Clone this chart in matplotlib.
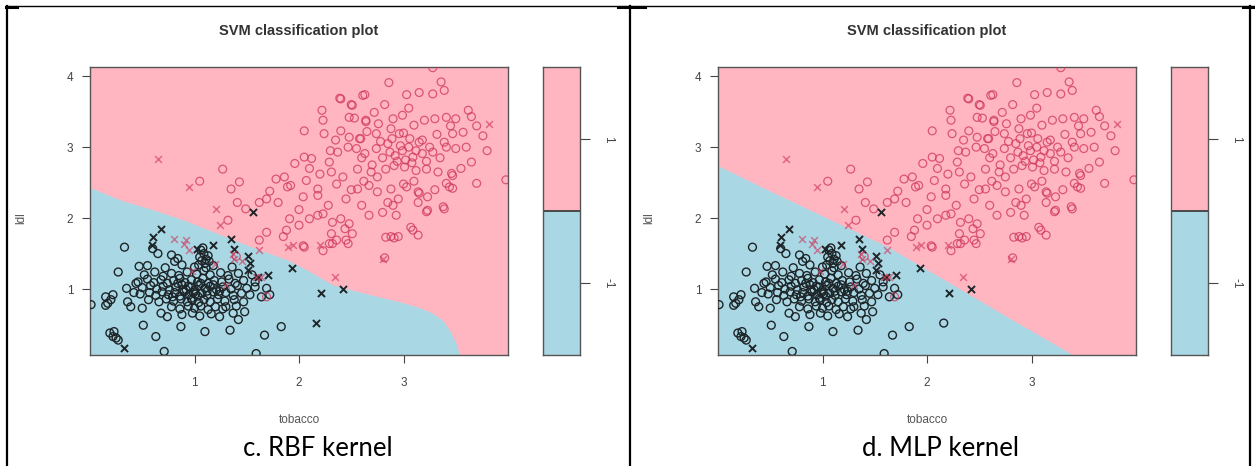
import numpy as np
import matplotlib
matplotlib.use("Agg")
import matplotlib.pyplot as plt
from matplotlib.lines import Line2D

# ---- data (tobacco, ldl) ----
# class -1, plain points (circles)
neg_pts = [
    (0.01, 0.78), (0.15, 0.89), (0.20, 0.85), (0.15, 0.77), (0.22, 0.92), (0.17, 0.80),
    (0.27, 1.24), (0.33, 1.59), (0.35, 1.01), (0.36, 0.82), (0.39, 0.75), (0.47, 1.32),
    (0.50, 0.73), (0.51, 0.49), (0.19, 0.38), (0.23, 0.40), (0.27, 0.28), (0.22, 0.33),
    (0.25, 0.31), (0.63, 0.33), (0.71, 0.12), (0.87, 0.47), (1.10, 0.40), (1.34, 0.42),
    (1.67, 0.35), (1.83, 0.47), (1.59, 0.09), (0.60, 1.57), (0.65, 1.50), (0.78, 1.48),
    (0.84, 1.43), (0.81, 1.39), (1.69, 1.01), (1.72, 0.92), (1.64, 0.89), (1.48, 0.68),
    (1.42, 0.57), (1.30, 0.75), (1.37, 0.66), (0.68, 0.66), (0.74, 0.61), (0.44, 1.08),
    (0.42, 0.95),
    (0.55, 1.33), (0.72, 1.30), (0.88, 1.34), (1.00, 1.31), (1.10, 1.36), (1.18, 1.33), (1.36, 1.31),
    (1.06, 1.55), (1.09, 1.50), (1.05, 1.45), (1.11, 1.42), (1.07, 1.40), (1.13, 1.47), (1.08, 1.58),
    (0.52, 1.20), (0.62, 1.24), (0.70, 1.18), (0.78, 1.22), (0.85, 1.19), (0.93, 1.24), (1.02, 1.21),
    (1.09, 1.26), (1.15, 1.20), (1.25, 1.23), (1.32, 1.19), (1.42, 1.22), (1.55, 1.20),
    (0.46, 1.10), (0.55, 1.14), (0.61, 1.09), (0.68, 1.13), (0.74, 1.08), (0.80, 1.12), (0.86, 1.15),
    (0.91, 1.09), (0.97, 1.13), (1.03, 1.10), (1.08, 1.15), (1.13, 1.08), (1.19, 1.12), (1.26, 1.10),
    (1.33, 1.14), (1.39, 1.08), (1.47, 1.12), (1.58, 1.10),
    (0.50, 1.02), (0.58, 1.05), (0.64, 1.00), (0.70, 1.04), (0.76, 0.99), (0.82, 1.03), (0.88, 1.06),
    (0.92, 0.99), (0.96, 1.03), (1.00, 0.98), (1.04, 1.05), (1.10, 1.01), (1.15, 1.04), (1.21, 0.99),
    (1.27, 1.03), (1.35, 1.00), (1.41, 1.05), (1.50, 1.01), (1.58, 1.03),
    (0.48, 0.93), (0.57, 0.95), (0.63, 0.91), (0.69, 0.96), (0.75, 0.92), (0.81, 0.95), (0.86, 0.90),
    (0.90, 0.96), (0.95, 0.92), (0.99, 0.95), (1.03, 0.90), (1.07, 0.94), (1.12, 0.91), (1.18, 0.96),
    (1.23, 0.92), (1.30, 0.95), (1.37, 0.91), (1.45, 0.94), (1.53, 0.92),
    (0.56, 0.85), (0.66, 0.82), (0.73, 0.86), (0.80, 0.83), (0.87, 0.86), (0.93, 0.82), (0.98, 0.85),
    (1.04, 0.81), (1.09, 0.85), (1.15, 0.82), (1.22, 0.86), (1.29, 0.83), (1.38, 0.85), (1.47, 0.82),
    (0.78, 0.75), (0.86, 0.72), (0.94, 0.76), (1.00, 0.73), (1.06, 0.76), (1.13, 0.71), (1.20, 0.75),
    (1.27, 0.72), (1.40, 0.76),
    (0.88, 0.64), (0.98, 0.66), (1.05, 0.62), (1.16, 0.65), (1.24, 0.61),
    (0.94, 1.04), (1.01, 0.93), (0.89, 0.98), (1.12, 0.97), (0.84, 1.08), (1.06, 1.08), (1.18, 1.06),
    (0.97, 0.87), (0.79, 0.89), (1.24, 0.97), (1.11, 1.30), (1.04, 1.34), (1.14, 1.39),
]
# class -1 support vectors (x) in both panels
neg_sv = [
    (0.60, 1.74), (0.68, 1.84), (0.59, 1.62), (1.02, 1.57), (1.18, 1.62), (1.35, 1.70),
    (1.38, 1.57), (1.51, 1.46), (1.53, 1.36), (1.51, 1.27), (1.61, 1.17), (1.70, 1.20),
    (1.93, 1.29), (2.21, 0.94), (2.42, 1.00), (0.33, 0.17), (1.56, 2.08),
]
# class -1 support vector only for RBF (circle in MLP panel)
neg_sv_rbf = [(2.16, 0.52)]

# class 1, plain points (circles)
pos_pts = [
    (2.86, 3.91), (3.36, 3.92), (3.39, 3.80), (3.03, 3.74), (3.15, 3.77), (3.28, 3.75), (2.63, 3.74),
    (2.39, 3.69), (2.50, 3.60), (2.22, 3.52), (2.23, 3.38), (2.24, 3.19), (2.05, 3.23),
    (2.48, 3.42), (2.53, 3.41), (2.64, 3.36), (2.72, 3.49), (2.82, 3.60), (2.99, 3.45), (3.10, 3.31),
    (3.20, 3.38), (3.30, 3.40), (3.41, 3.42), (3.50, 3.40), (3.62, 3.52), (3.65, 3.43),
    (2.40, 3.23), (2.48, 3.14), (2.58, 3.12), (2.74, 3.19), (2.88, 3.26), (2.96, 3.19), (3.06, 3.12),
    (3.15, 3.07), (3.25, 3.00), (3.39, 3.07), (3.47, 3.19), (3.57, 3.21), (3.76, 3.16),
    (2.47, 3.00), (2.63, 2.91), (2.74, 2.98), (2.87, 2.93), (2.99, 2.95), (3.09, 2.86), (3.18, 2.91),
    (3.28, 2.93), (3.41, 3.00), (3.50, 2.98),
    (1.96, 2.77), (2.05, 2.86), (2.12, 2.84), (2.29, 2.79), (2.37, 2.93),
    (2.31, 2.65), (2.42, 2.58), (2.56, 2.69), (2.69, 2.65), (2.75, 2.58), (2.83, 2.69), (2.91, 2.74),
    (3.01, 2.72), (3.12, 2.67), (3.22, 2.69), (3.33, 2.65),
    (3.47, 2.60), (3.65, 2.79), (3.70, 2.49), (3.44, 2.44),
    (2.07, 2.53), (2.18, 2.41), (2.18, 2.32), (2.04, 2.30), (2.28, 2.18),
    (2.45, 2.27), (2.56, 2.41), (2.67, 2.46), (2.75, 2.37), (2.88, 2.41), (2.95, 2.27), (3.14, 2.37),
    (3.23, 2.30), (3.39, 2.13), (3.22, 2.09), (3.14, 2.22),
    (2.67, 2.04), (2.80, 2.08), (2.90, 2.18), (2.93, 2.04),
    (1.91, 1.99), (2.00, 1.90), (2.10, 1.99), (2.18, 2.04), (2.23, 2.06), (2.32, 1.94), (2.40, 1.99),
    (2.48, 1.92),
    (2.31, 1.78), (2.44, 1.85), (2.51, 1.78), (2.32, 1.64), (2.23, 1.54), (2.05, 1.59), (2.47, 1.64),
    (2.83, 1.73), (2.91, 1.72), (3.07, 1.87), (3.14, 1.76), (2.82, 1.44),
    (1.05, 2.52), (1.27, 2.69), (1.35, 2.41), (1.43, 2.51), (1.41, 2.22), (1.49, 2.13), (1.62, 2.22),
    (1.69, 2.27), (1.80, 2.22), (1.78, 2.55), (1.86, 2.58), (1.89, 2.44), (1.32, 1.97), (1.62, 1.69),
    (1.69, 1.80), (1.88, 1.83), (2.04, 1.61), (2.40, 3.68), (2.51, 3.59), (2.61, 3.73),
    (2.64, 3.38), (2.59, 3.12),
    (3.47, 2.42), (3.41, 2.49), (3.46, 2.63), (3.38, 2.16), (3.23, 2.11), (3.09, 1.83), (3.03, 2.44),
    (3.15, 2.35), (3.28, 4.12),
    (1.40, 1.46), (1.69, 0.89), (2.29, 1.64), (2.36, 1.69), (2.45, 1.69), (2.88, 1.74), (2.95, 1.74),
    (1.85, 1.74),
    (2.85, 3.05), (2.92, 2.88), (2.97, 3.02), (3.02, 2.82), (3.05, 3.00), (2.94, 2.80), (3.12, 2.95),
    (3.08, 2.78), (2.80, 2.85), (3.18, 3.10), (2.89, 3.12), (3.00, 3.20), (2.78, 3.08), (3.22, 2.80),
    (2.70, 2.75), (2.60, 2.85), (2.55, 2.98), (3.35, 2.85), (3.32, 3.18), (2.65, 3.22), (2.90, 3.40),
    (3.05, 3.55), (2.76, 3.33), (2.35, 3.10), (2.30, 2.95), (3.00, 2.48), (3.10, 2.52), (2.62, 2.52),
    (2.50, 2.40), (2.36, 2.48), (2.20, 2.62), (2.10, 2.70), (1.92, 2.46), (1.72, 2.38), (2.00, 2.12),
    (2.60, 2.18), (2.85, 2.22), (3.30, 2.40), (3.55, 2.70), (3.60, 3.00), (3.45, 3.30), (3.70, 3.30),
    (3.80, 2.95), (3.98, 2.54),
]
# class 1 support vectors (x)
pos_sv = [
    (0.65, 2.83), (0.95, 2.44), (1.21, 2.13), (1.24, 1.90), (1.89, 1.59), (0.90, 1.64), (0.95, 1.55),
    (1.37, 1.50), (1.59, 1.17), (2.34, 1.17), (2.80, 1.43), (1.62, 1.55), (1.94, 1.62), (2.20, 1.62),
    (3.82, 3.33), (0.80, 1.70), (1.20, 1.35), (1.45, 1.40), (0.98, 1.25), (1.30, 1.05), (0.92, 1.69),
    (1.38, 1.43), (1.64, 1.17),
]

# decision boundaries (blue region lies below)
rbf_bx = [0.0, 0.30, 0.62, 0.90, 1.19, 1.57, 1.89, 2.10, 2.32, 2.60, 2.96, 3.15, 3.28, 3.38, 3.44, 3.50, 3.54]
rbf_by = [2.43, 2.25, 2.11, 1.97, 1.80, 1.58, 1.41, 1.25, 1.06, 0.95, 0.82, 0.74, 0.66, 0.55, 0.42, 0.25, 0.05]
mlp_bx = [0.0, 0.50, 1.00, 1.63, 2.20, 2.80, 3.27, 3.42]
mlp_by = [2.74, 2.38, 2.03, 1.59, 1.10, 0.58, 0.18, 0.05]

captions = ["c. RBF kernel", "d. MLP kernel"]
cb_ticks = [-1, 1]
cb_labels = ["-1", "1"]

PINK = "#ffb6c1"
BLUE = "#a9d7e4"
RED = "#cf3559"
BLK = "#1d2528"
GREY = "#555555"

W, H = 1255, 466
fig = plt.figure(figsize=(W / 100, H / 100), dpi=100)
fig.patch.set_facecolor("white")


def fx(px):
    return px / W


def fy(py):
    return 1 - py / H


def arr(pts):
    a = np.array(pts)
    return a[:, 0], a[:, 1]


def draw_panel(off, bx, by, rbf):
    ax = fig.add_axes([fx(90 + off), fy(355), 418 / W, 288 / H])
    ax.set_facecolor(PINK)
    ax.set_xlim(0, 4.0)
    ax.set_ylim(0.07, 4.13)
    ax.fill_between(bx, -1, by, color=BLUE, lw=0, zorder=0)

    # class -1
    nx, ny = arr(neg_pts if rbf else neg_pts + neg_sv_rbf)
    ax.scatter(nx, ny, s=32, facecolors="none", edgecolors=BLK, linewidths=1.0, zorder=3)
    sx, sy = arr(neg_sv + neg_sv_rbf if rbf else neg_sv)
    ax.scatter(sx, sy, s=26, marker="x", color=BLK, linewidths=1.4, zorder=4)
    # class 1
    px_, py_ = arr(pos_pts)
    ax.scatter(px_, py_, s=32, facecolors="none", edgecolors=RED, linewidths=0.9, alpha=0.75, zorder=3)
    qx, qy = arr(pos_sv)
    ax.scatter(qx, qy, s=24, marker="x", color=RED, linewidths=1.1, alpha=0.6, zorder=4)

    for sp in ax.spines.values():
        sp.set_color(GREY)
        sp.set_linewidth(1.0)
    ax.set_xticks([1, 2, 3])
    ax.set_yticks([1, 2, 3, 4])
    ax.tick_params(colors="#444444", labelsize=8.5, length=6, width=0.8, direction="out")
    ax.tick_params(axis="x", pad=10)
    ax.tick_params(axis="y", pad=6)
    for t in ax.get_xticklabels() + ax.get_yticklabels():
        t.set_fontfamily("Liberation Sans")

    # colour key
    cb = fig.add_axes([fx(543 + off), fy(355), 37 / W, 288 / H])
    cb.set_xlim(0, 1)
    cb.set_ylim(-2, 2)
    cb.axhspan(-2, 0, color=BLUE, lw=0)
    cb.axhspan(0, 2, color=PINK, lw=0)
    cb.axhline(0, color="#333333", lw=1.2)
    cb.set_xticks([])
    cb.set_yticks(cb_ticks)
    cb.set_yticklabels(cb_labels, rotation=-90, va="center", fontfamily="Liberation Sans")
    cb.yaxis.tick_right()
    cb.tick_params(colors="#444444", labelsize=8.5, length=7, width=0.8, pad=9)
    for sp in cb.spines.values():
        sp.set_color(GREY)
        sp.set_linewidth(1.0)

    fig.text(fx(299 + off), fy(31), "SVM classification plot", ha="center", va="center",
             fontsize=10.5, fontweight="bold", color="#333333", family="Liberation Sans")
    fig.text(fx(299 + off), fy(420), "tobacco", ha="center", va="center",
             fontsize=8.5, color="#555555", family="Liberation Sans")
    fig.text(fx(21 + off), fy(218), "ldl", ha="center", va="center", rotation=90,
             fontsize=8.5, color="#555555", family="Liberation Sans")


draw_panel(0, rbf_bx, rbf_by, True)
draw_panel(628, mlp_bx, mlp_by, False)

fig.text(fx(318), fy(448), captions[0], ha="center", va="center", fontsize=18.5, family="Lato", color="black")
fig.text(fx(941), fy(448), captions[1], ha="center", va="center", fontsize=18.5, family="Lato", color="black")

# table borders
fig.add_artist(Line2D([fx(6), 1.0], [fy(6), fy(6)], color="black", lw=1.0))
for xb in (7, 630.5, 1250):
    fig.add_artist(Line2D([fx(xb), fx(xb)], [fy(6), 0.0], color="black", lw=1.6))
for x0, x1 in ((6, 17), (618, 645), (1243, 1255)):
    fig.add_artist(Line2D([fx(x0), fx(x1)], [fy(6.5), fy(6.5)], color="black", lw=2.2))

fig.savefig("out.png", dpi=100, facecolor="white")
